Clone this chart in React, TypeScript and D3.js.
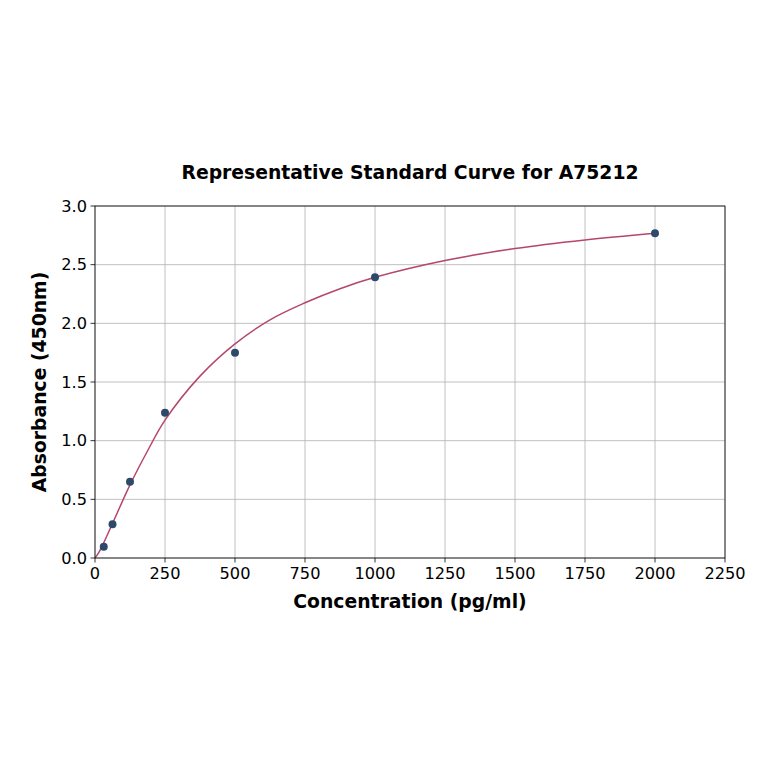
import React from "react";
import * as d3 from "d3";

const pointConc = [31.25, 62.5, 125, 250, 500, 1000, 2000];
const pointAbs = [0.096, 0.287, 0.65, 1.238, 1.75, 2.392, 2.767];

const curveConc = [0, 15, 31.25, 62.5, 125, 187.5, 250, 375, 500, 625, 750, 875, 1000, 1250, 1500, 1750, 2000];
const curveAbs = [0.0, 0.053, 0.13, 0.294, 0.623, 0.912, 1.175, 1.55, 1.825, 2.03, 2.175, 2.295, 2.392, 2.535, 2.637, 2.71, 2.767];

const xTicks = [0, 250, 500, 750, 1000, 1250, 1500, 1750, 2000, 2250];
const yTicks = [0.0, 0.5, 1.0, 1.5, 2.0, 2.5, 3.0];

const title = "Representative Standard Curve for A75212";
const xLabel = "Concentration (pg/ml)";
const yLabel = "Absorbance (450nm)";

export default function App() {
  const W = 764, H = 764;
  const L = 95, R = 725, T = 206, B = 558;
  const x = d3.scaleLinear().domain([0, 2250]).range([L, R]);
  const y = d3.scaleLinear().domain([0, 3]).range([B, T]);
  const line = d3
    .line<number>()
    .x((_, i) => x(curveConc[i]))
    .y((d) => y(d))
    .curve(d3.curveCatmullRom.alpha(0.5));
  const font = "DejaVu Sans, sans-serif";
  return (
    <svg width={W} height={H} style={{ position: "absolute", left: 0, top: 0, background: "#fff" }} fontFamily={font}>
      <rect x={0} y={0} width={W} height={H} fill="#fff" />
      <defs>
        <clipPath id="plotclip">
          <rect x={L} y={T} width={R - L} height={B - T} />
        </clipPath>
      </defs>
      {xTicks.map((t) => (
        <line key={"gx" + t} x1={x(t)} x2={x(t)} y1={T} y2={B} stroke="#b0b0b0" strokeWidth={0.8} />
      ))}
      {yTicks.map((t) => (
        <line key={"gy" + t} x1={L} x2={R} y1={y(t)} y2={y(t)} stroke="#b0b0b0" strokeWidth={0.8} />
      ))}
      <path d={line(curveAbs) || ""} fill="none" stroke="#b5476b" strokeWidth={1.5} clipPath="url(#plotclip)" />
      {pointConc.map((c, i) => (
        <circle key={"p" + i} cx={x(c)} cy={y(pointAbs[i])} r={4} fill="#2d4a6b" />
      ))}
      <rect x={L} y={T} width={R - L} height={B - T} fill="none" stroke="#000" strokeWidth={0.8} />
      {xTicks.map((t) => (
        <g key={"tx" + t}>
          <line x1={x(t)} x2={x(t)} y1={B} y2={B + 4.5} stroke="#000" strokeWidth={0.8} />
          <text x={x(t)} y={B + 21} textAnchor="middle" fontSize={16.2} fill="#000">
            {t}
          </text>
        </g>
      ))}
      {yTicks.map((t) => (
        <g key={"ty" + t}>
          <line x1={L - 4.5} x2={L} y1={y(t)} y2={y(t)} stroke="#000" strokeWidth={0.8} />
          <text x={L - 8} y={y(t) + 5.8} textAnchor="end" fontSize={16.2} fill="#000">
            {t.toFixed(1)}
          </text>
        </g>
      ))}
      <text x={(L + R) / 2} y={179} textAnchor="middle" fontSize={18.8} fontWeight="bold" fill="#000">
        {title}
      </text>
      <text x={(L + R) / 2} y={608} textAnchor="middle" fontSize={18.8} fontWeight="bold" fill="#000">
        {xLabel}
      </text>
      <text
        transform={`translate(46, ${(T + B) / 2}) rotate(-90)`}
        textAnchor="middle"
        fontSize={18.8}
        fontWeight="bold"
        fill="#000"
      >
        {yLabel}
      </text>
    </svg>
  );
}
